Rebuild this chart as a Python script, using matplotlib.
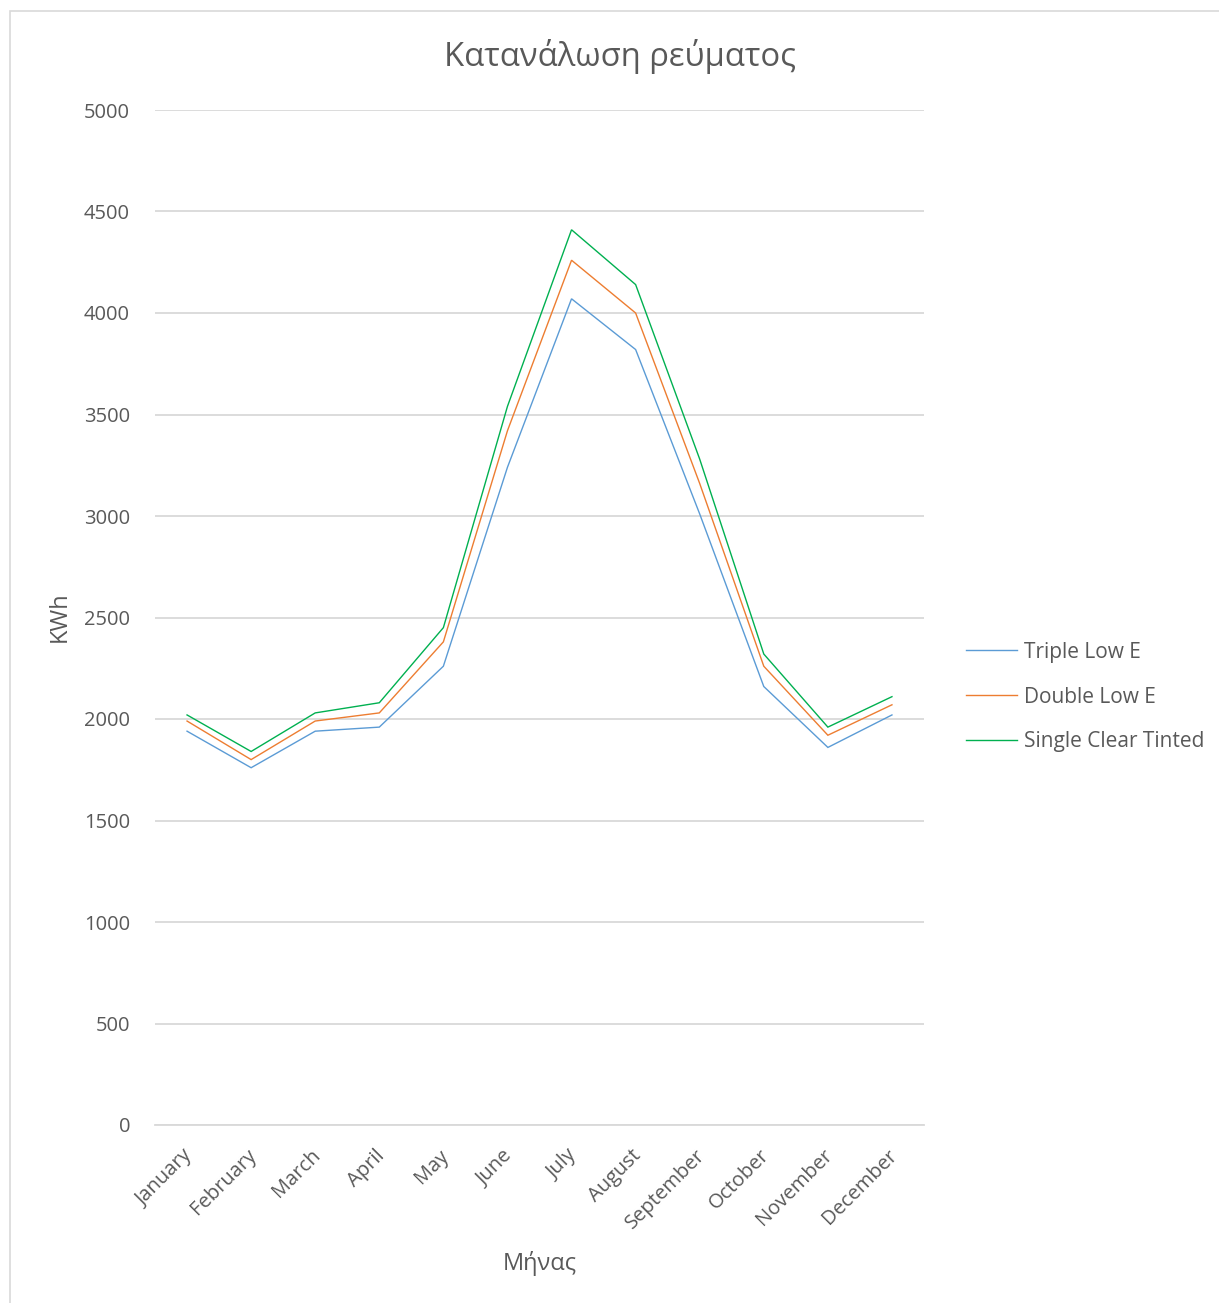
import matplotlib
matplotlib.use("Agg")
import matplotlib.pyplot as plt
from matplotlib.patches import Rectangle
from matplotlib.transforms import ScaledTranslation

# Monthly electricity consumption (kWh) per glazing type
months = ["January", "February", "March", "April", "May", "June",
          "July", "August", "September", "October", "November", "December"]
triple_low_e = [1940, 1760, 1940, 1960, 2260, 3240, 4070, 3820, 3010, 2160, 1860, 2020]
double_low_e = [1990, 1800, 1990, 2030, 2380, 3420, 4260, 4000, 3160, 2260, 1920, 2070]
single_clear_tinted = [2020, 1840, 2030, 2080, 2450, 3540, 4410, 4140, 3280, 2320, 1960, 2110]

series_names = ["Triple Low E", "Double Low E", "Single Clear Tinted"]
y_ticks = [0, 500, 1000, 1500, 2000, 2500, 3000, 3500, 4000, 4500, 5000]

plt.rcParams["font.family"] = ["Open Sans", "DejaVu Sans"]
text_color = "#595959"
grid_color = "#D9D9D9"
colors = ["#5B9BD5", "#ED7D31", "#00B050"]

W, H = 1219, 1303
fig = plt.figure(figsize=(W / 100, H / 100), dpi=100)

# Chart-area border
fig.patches.append(Rectangle((10 / W, -0.01), 1.2, 1 - 11 / H + 0.01,
                             transform=fig.transFigure, fill=False,
                             edgecolor="#D9D9D9", linewidth=1.2))

left, right, top, bottom = 155, 924, 110, 1125
ax = fig.add_axes([left / W, 1 - bottom / H, (right - left) / W, (bottom - top) / H])

x = list(range(len(months)))
for vals, name, c in zip([triple_low_e, double_low_e, single_clear_tinted], series_names, colors):
    ax.plot(x, vals, color=c, linewidth=1.0, label=name, solid_joinstyle="miter")

ax.set_xlim(-0.5, len(months) - 0.5)
ax.set_ylim(0, 5000)
ax.set_yticks(y_ticks)
ax.set_xticks(x)
ax.set_xticklabels(months, rotation=45, ha="right", rotation_mode="anchor")
ax.yaxis.grid(True, color=grid_color, linewidth=1.3)
ax.set_axisbelow(True)
for s in ["top", "right", "left"]:
    ax.spines[s].set_visible(False)
ax.spines["bottom"].set_color(grid_color)
ax.spines["bottom"].set_linewidth(1.3)
ax.tick_params(axis="y", length=0, pad=18, labelsize=14.5, labelcolor=text_color)
ax.tick_params(axis="x", length=0, pad=12, labelsize=14.5, labelcolor=text_color)
shift = ScaledTranslation(-5 / 100, -4 / 100, fig.dpi_scale_trans)
for lbl in ax.get_xticklabels():
    lbl.set_transform(lbl.get_transform() + shift)

fig.text(620 / W, 1 - 56 / H, "Κατανάλωση ρεύματος", ha="center", va="center",
         fontsize=23.6, color=text_color)
fig.text(540 / W, 1 - 1263 / H, "Μήνας", ha="center", va="center",
         fontsize=17, color=text_color)
fig.text(60 / W, 1 - 617 / H, "KWh", ha="center", va="center", rotation=90,
         fontsize=17, color=text_color)

fig.legend(loc="center left", bbox_to_anchor=(966 / W, 1 - 697 / H),
           frameon=False, fontsize=15, labelcolor=text_color,
           handlelength=2.45, handletextpad=0.33, labelspacing=1.15,
           borderpad=0, borderaxespad=0)

fig.savefig("out.png", dpi=100, facecolor="white")
